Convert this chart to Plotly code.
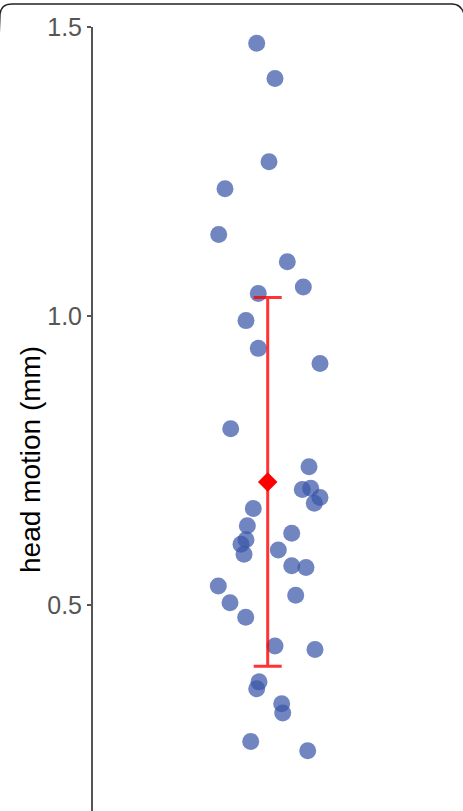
import plotly.graph_objects as go

# Head motion values (mm), one per subject
motion = [1.472, 1.411, 1.267, 1.220, 1.141, 1.094, 1.050, 1.039, 0.992, 0.944,
          0.918, 0.805, 0.739, 0.700, 0.702, 0.686, 0.676, 0.667, 0.637, 0.613,
          0.605, 0.588, 0.624, 0.595, 0.568, 0.565, 0.533, 0.517, 0.504, 0.479,
          0.429, 0.423, 0.367, 0.355, 0.329, 0.313, 0.264, 0.248]
# Horizontal jitter offsets
jitter = [-0.11, 0.073, 0.013, -0.427, -0.49, 0.196, 0.356, -0.094, -0.217, -0.094,
          0.523, -0.37, 0.413, 0.346, 0.43, 0.523, 0.466, -0.144, -0.204, -0.217,
          -0.267, -0.237, 0.24, 0.106, 0.24, 0.383, -0.494, 0.28, -0.377, -0.22,
          0.073, 0.473, -0.087, -0.11, 0.14, 0.15, -0.17, 0.40]
mean_val = [0.713]
sd_val = [0.319]
tick_vals = [0.5, 1.0, 1.5]
tick_text = ["0.5", "1.0", "1.5"]

W, H = 463, 811
ML, MR, MT, MB = 93, 0, 27, 0
PW, PH = W - ML - MR, H - MT - MB

def px(x):
    return (x - ML) / PW

def py(y):
    return (H - MB - y) / PH

fig = go.Figure()
fig.add_trace(go.Scatter(
    x=jitter, y=motion, mode="markers",
    marker=dict(size=17, color="#3A56A8", opacity=0.72, line=dict(width=0)),
    hoverinfo="y", showlegend=False))
fig.add_trace(go.Scatter(
    x=[0], y=mean_val, mode="markers",
    marker=dict(symbol="diamond", size=15, color="#FF0000", line=dict(width=0)),
    error_y=dict(type="data", array=sd_val, color="rgba(255,0,0,0.8)",
                 thickness=3, width=14),
    showlegend=False))

fig.add_annotation(
    text="head motion (mm)", textangle=-90, showarrow=False,
    xref="paper", yref="paper", x=px(30), y=py(460),
    xanchor="center", yanchor="middle",
    font=dict(family="Liberation Sans, Arial, sans-serif", size=28, color="#000000"))

# rounded frame at top
path = (f"M {px(-1)},{py(40)} L {px(0)},{py(14)} Q {px(1)},{py(4)} {px(12)},{py(4)} "
        f"L {px(452)},{py(4)} Q {px(461)},{py(4)} {px(464)},{py(14)}")
fig.add_shape(type="path", path=path, xref="paper", yref="paper",
              line=dict(color="#222222", width=1.5))

fig.update_layout(
    width=W, height=H,
    margin=dict(l=ML, r=MR, t=MT, b=MB),
    paper_bgcolor="white", plot_bgcolor="white",
    xaxis=dict(range=[(ML - 267.7) / 100, (W - MR - 267.7) / 100], visible=False,
               fixedrange=True),
    yaxis=dict(range=[1.0 - (H - MB - 316) / 578, 1.0 + (316 - MT) / 578],
               tickvals=tick_vals, ticktext=tick_text,
               showgrid=False, zeroline=False,
               showline=True, linecolor="#555555", linewidth=2,
               ticks="outside", ticklen=4, tickwidth=2, tickcolor="#555555",
               tickfont=dict(family="Liberation Sans, Arial, sans-serif", size=25,
                             color="#555555")),
)
fig.write_html("out.html")
